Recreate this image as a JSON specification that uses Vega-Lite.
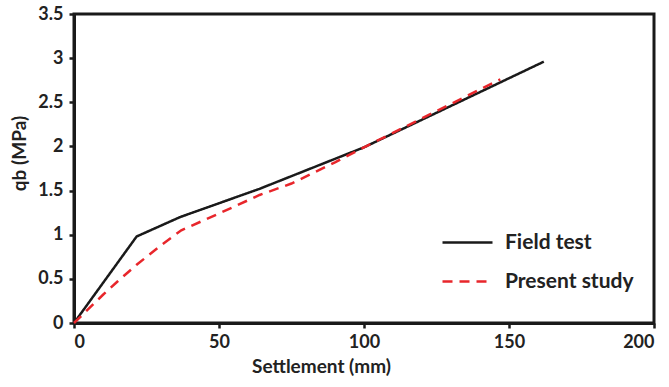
{
  "$schema": "https://vega.github.io/schema/vega-lite/v6.json",
  "width": 580,
  "height": 309,
  "autosize": {"type": "none"},
  "padding": {"left": 74, "top": 14, "right": 15, "bottom": 64},
  "background": "white",
  "config": {
    "view": {"stroke": "#1a1a1a", "strokeWidth": 3},
    "font": "Lato",
    "axis": {"grid": false, "domainColor": "#1a1a1a", "domainWidth": 3, "tickColor": "#1a1a1a", "tickWidth": 2.5,
      "labelFont": "Lato", "labelFontWeight": "bold", "labelFontSize": 18, "labelColor": "#222",
      "titleFont": "Lato", "titleFontWeight": "bold", "titleFontSize": 19, "titleColor": "#222"}
  },
  "data": {"values": [
    {"s": 0, "q": 0, "series": "Field test"},
    {"s": 21.6, "q": 0.98, "series": "Field test"},
    {"s": 36.6, "q": 1.2, "series": "Field test"},
    {"s": 64, "q": 1.52, "series": "Field test"},
    {"s": 100, "q": 1.99, "series": "Field test"},
    {"s": 162, "q": 2.96, "series": "Field test"},
    {"s": 0, "q": 0, "series": "Present study"},
    {"s": 5, "q": 0.16, "series": "Present study"},
    {"s": 10, "q": 0.32, "series": "Present study"},
    {"s": 15, "q": 0.47, "series": "Present study"},
    {"s": 21.6, "q": 0.66, "series": "Present study"},
    {"s": 30, "q": 0.88, "series": "Present study"},
    {"s": 37, "q": 1.05, "series": "Present study"},
    {"s": 50, "q": 1.24, "series": "Present study"},
    {"s": 64, "q": 1.45, "series": "Present study"},
    {"s": 75, "q": 1.58, "series": "Present study"},
    {"s": 90, "q": 1.82, "series": "Present study"},
    {"s": 100, "q": 1.99, "series": "Present study"},
    {"s": 125, "q": 2.4, "series": "Present study"},
    {"s": 147, "q": 2.76, "series": "Present study"}
  ]},
  "mark": {"type": "line", "strokeWidth": 2.5},
  "encoding": {
    "x": {"field": "s", "type": "quantitative",
      "scale": {"domain": [0, 200], "nice": false},
      "axis": {"title": "Settlement (mm)", "titlePadding": 6, "titleX": 247,
        "values": [0, 50, 100, 150, 200], "tickSize": 5, "labelPadding": 5}},
    "y": {"field": "q", "type": "quantitative",
      "scale": {"domain": [0, 3.5], "nice": false},
      "axis": {"title": "qb (MPa)", "titlePadding": 8, "titleY": 139,
        "values": [0, 0.5, 1, 1.5, 2, 2.5, 3, 3.5], "labelExpr": "'' + datum.value",
        "tickSize": 5, "labelPadding": 6}},
    "color": {"field": "series", "type": "nominal",
      "scale": {"domain": ["Field test", "Present study"], "range": ["#1a1a1a", "#e8262b"]},
      "legend": {"title": null, "orient": "none", "legendX": 367, "legendY": 202,
        "symbolType": "stroke", "symbolSize": 2500, "symbolStrokeWidth": 2.5,
        "rowPadding": 2, "labelFontSize": 21, "labelFontWeight": "bold", "labelFont": "Lato", "labelColor": "#222", "labelOffset": 11}},
    "strokeDash": {"field": "series", "type": "nominal",
      "scale": {"domain": ["Field test", "Present study"], "range": [[1, 0], [10, 7]]},
      "legend": {"title": null, "orient": "none", "legendX": 367, "legendY": 202,
        "symbolType": "stroke", "symbolSize": 2500, "symbolStrokeWidth": 2.5,
        "rowPadding": 2, "labelFontSize": 21, "labelFontWeight": "bold", "labelFont": "Lato", "labelColor": "#222", "labelOffset": 11}}
  }
}
